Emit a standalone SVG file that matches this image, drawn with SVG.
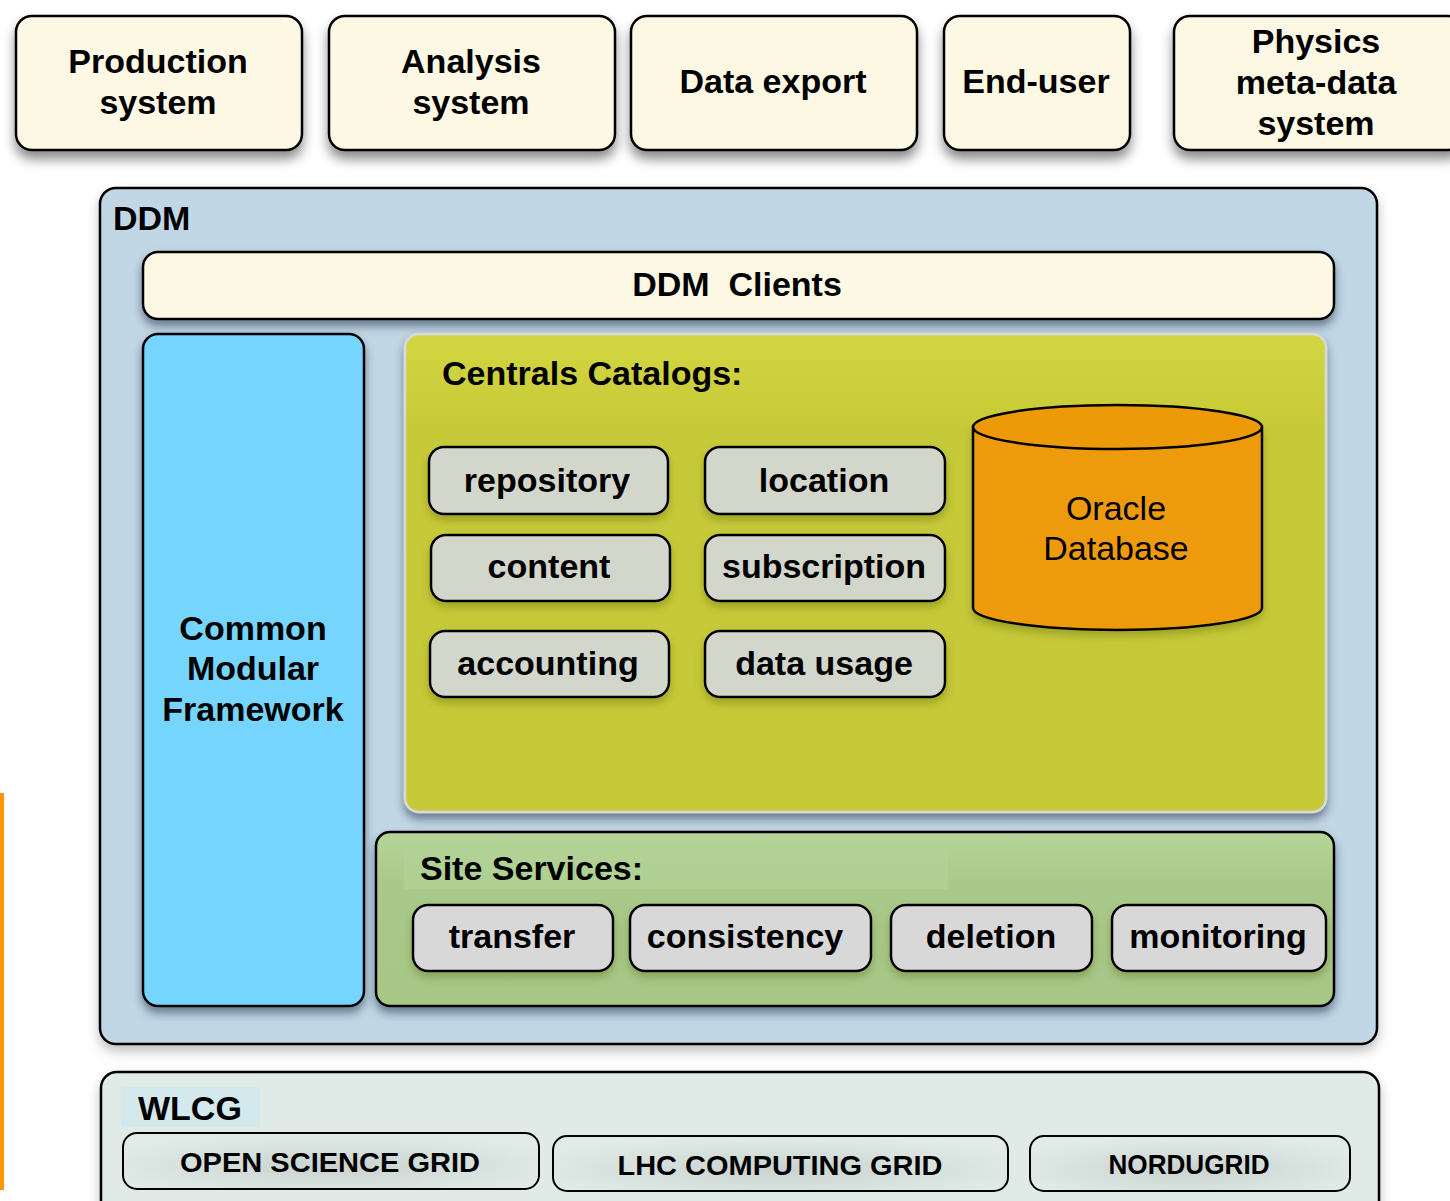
<svg xmlns="http://www.w3.org/2000/svg" width="1450" height="1201" viewBox="0 0 1450 1201">
<defs>
<filter id="sh" x="-10%" y="-10%" width="120%" height="140%">
<feDropShadow dx="0" dy="8" stdDeviation="6" flood-color="#000" flood-opacity="0.45"/>
</filter>
<filter id="shs" x="-10%" y="-10%" width="120%" height="140%">
<feDropShadow dx="0" dy="6" stdDeviation="5" flood-color="#1e3346" flood-opacity="0.55"/>
</filter>
<filter id="shl" x="-10%" y="-10%" width="120%" height="140%">
<feDropShadow dx="0" dy="6" stdDeviation="6" flood-color="#000" flood-opacity="0.25"/>
</filter>
<filter id="shb" x="-10%" y="-20%" width="120%" height="160%">
<feDropShadow dx="0" dy="5" stdDeviation="4" flood-color="#4e5a10" flood-opacity="0.35"/>
</filter>
<linearGradient id="gCat" x1="0" y1="0" x2="0" y2="1">
<stop offset="0" stop-color="#d2d640"/>
<stop offset="0.2" stop-color="#c7ca37"/>
<stop offset="1" stop-color="#c6c937"/>
</linearGradient>
<linearGradient id="gSite" x1="0" y1="0" x2="0" y2="1">
<stop offset="0" stop-color="#b6d699"/>
<stop offset="0.3" stop-color="#a9c98a"/>
<stop offset="1" stop-color="#a7c787"/>
</linearGradient>
<radialGradient id="gGrid" cx="0.5" cy="0.6" r="0.6">
<stop offset="0" stop-color="#c9d2cf"/>
<stop offset="1" stop-color="#e1ece9"/>
</radialGradient>
</defs>
<style>
text{font-family:"Liberation Sans",Arial,sans-serif;fill:#000}
.b{font-weight:bold;font-size:34px}
.c{text-anchor:middle}
.top{fill:#fdf8e4;stroke:#000;stroke-width:2.5}
.cat{fill:#d2d6cb;stroke:#000;stroke-width:2.5}
.site{fill:#d8d8d8;stroke:#000;stroke-width:2.5}
.grid{fill:url(#gGrid);stroke:#000;stroke-width:2}
.g{font-weight:bold;font-size:28px}
</style>
<rect x="0" y="0" width="1450" height="1201" fill="#fff"/>
<rect id="orange-line" x="0" y="793" width="4" height="397" fill="#ff9500"/>

<g id="production-system">
<rect class="top" x="16" y="16" width="286" height="134" rx="16" filter="url(#sh)"/>
<text class="b c" x="158" y="73">Production</text>
<text class="b c" x="158" y="114">system</text>
</g>
<g id="analysis-system">
<rect class="top" x="329" y="16" width="286" height="134" rx="16" filter="url(#sh)"/>
<text class="b c" x="471" y="73">Analysis</text>
<text class="b c" x="471" y="114">system</text>
</g>
<g id="data-export">
<rect class="top" x="631" y="16" width="286" height="134" rx="16" filter="url(#sh)"/>
<text class="b c" x="773" y="93">Data export</text>
</g>
<g id="end-user">
<rect class="top" x="944" y="16" width="186" height="134" rx="16" filter="url(#sh)"/>
<text class="b c" x="1036" y="93">End-user</text>
</g>
<g id="physics-meta-data-system">
<rect class="top" x="1174" y="16" width="290" height="134" rx="16" filter="url(#sh)"/>
<text class="b c" x="1316" y="53">Physics</text>
<text class="b c" x="1316" y="94">meta-data</text>
<text class="b c" x="1316" y="135">system</text>
</g>

<g id="ddm">
<rect x="100" y="188" width="1277" height="856" rx="16" fill="#c2d7e5" stroke="#000" stroke-width="2.5" filter="url(#shl)"/>
<text class="b" x="113" y="230">DDM</text>
</g>

<g id="ddm-clients">
<rect x="143" y="252" width="1191" height="67" rx="15" fill="#fdf8e4" stroke="#000" stroke-width="2.5" filter="url(#shs)"/>
<text class="b c" x="737" y="296" xml:space="preserve">DDM  Clients</text>
</g>

<g id="common-modular-framework">
<rect x="143" y="334" width="221" height="672" rx="15" fill="#76d5fd" stroke="#000" stroke-width="2.5" filter="url(#shs)"/>
<text class="b c" x="253" y="640">Common</text>
<text class="b c" x="253" y="680">Modular</text>
<text class="b c" x="253" y="721">Framework</text>
</g>

<g id="centrals-catalogs">
<rect x="405" y="334" width="921" height="478" rx="14" fill="url(#gCat)" stroke="#d6dbd9" stroke-width="2.5" filter="url(#shs)"/>
<text class="b" x="442" y="385">Centrals Catalogs:</text>
</g>

<g id="repository">
<rect class="cat" x="429" y="447" width="239" height="67" rx="15" filter="url(#shb)"/>
<text class="b c" x="547" y="492">repository</text>
</g>
<g id="location">
<rect class="cat" x="705" y="447" width="240" height="67" rx="15" filter="url(#shb)"/>
<text class="b c" x="824" y="492">location</text>
</g>
<g id="content">
<rect class="cat" x="431" y="535" width="239" height="66" rx="15" filter="url(#shb)"/>
<text class="b c" x="549" y="578">content</text>
</g>
<g id="subscription">
<rect class="cat" x="705" y="535" width="240" height="66" rx="15" filter="url(#shb)"/>
<text class="b c" x="824" y="578">subscription</text>
</g>
<g id="accounting">
<rect class="cat" x="430" y="631" width="239" height="66" rx="15" filter="url(#shb)"/>
<text class="b c" x="548" y="675">accounting</text>
</g>
<g id="data-usage">
<rect class="cat" x="705" y="631" width="240" height="66" rx="15" filter="url(#shb)"/>
<text class="b c" x="824" y="675">data usage</text>
</g>

<g id="oracle-database">
<path d="M973,427 L973,608 A144.5,22 0 0 0 1262,608 L1262,427 Z" fill="#ed9a08" stroke="#000" stroke-width="2.5" filter="url(#shb)"/>
<ellipse cx="1117.5" cy="427" rx="144.5" ry="22" fill="#ed9a08" stroke="#000" stroke-width="2.5"/>
<text class="c" x="1116" y="520" style="font-size:34px">Oracle</text>
<text class="c" x="1116" y="560" style="font-size:34px">Database</text>
</g>

<g id="site-services">
<rect x="376" y="832" width="958" height="174" rx="14" fill="url(#gSite)" stroke="#000" stroke-width="2.5" filter="url(#shs)"/>
<rect x="404" y="849" width="544" height="40" fill="#b2d295" opacity="0.8"/>
<text class="b" x="420" y="880">Site Services:</text>
</g>
<g id="transfer">
<rect class="site" x="413" y="905" width="200" height="66" rx="15" filter="url(#shb)"/>
<text class="b c" x="512" y="948">transfer</text>
</g>
<g id="consistency">
<rect class="site" x="630" y="905" width="241" height="66" rx="15" filter="url(#shb)"/>
<text class="b c" x="745" y="948">consistency</text>
</g>
<g id="deletion">
<rect class="site" x="891" y="905" width="201" height="66" rx="15" filter="url(#shb)"/>
<text class="b c" x="991" y="948">deletion</text>
</g>
<g id="monitoring">
<rect class="site" x="1112" y="905" width="214" height="66" rx="15" filter="url(#shb)"/>
<text class="b c" x="1218" y="948">monitoring</text>
</g>

<g id="wlcg">
<rect x="101" y="1072" width="1278" height="150" rx="16" fill="#e0ebe8" stroke="#000" stroke-width="2.5" filter="url(#shl)"/>
<rect x="121" y="1087" width="139" height="40" fill="#d3e9ed"/>
<text class="b" x="138" y="1120">WLCG</text>
</g>
<g id="open-science-grid">
<rect class="grid" x="123" y="1133" width="416" height="56" rx="14"/>
<text class="g c" x="330" y="1172" textLength="300" lengthAdjust="spacingAndGlyphs">OPEN SCIENCE GRID</text>
</g>
<g id="lhc-computing-grid">
<rect class="grid" x="553" y="1136" width="455" height="55" rx="14"/>
<text class="g c" x="780" y="1175" textLength="325" lengthAdjust="spacingAndGlyphs">LHC COMPUTING GRID</text>
</g>
<g id="nordugrid">
<rect class="grid" x="1030" y="1136" width="320" height="55" rx="14"/>
<text class="g c" x="1189" y="1174" textLength="161" lengthAdjust="spacingAndGlyphs">NORDUGRID</text>
</g>
<g id="connectors"></g>
</svg>
